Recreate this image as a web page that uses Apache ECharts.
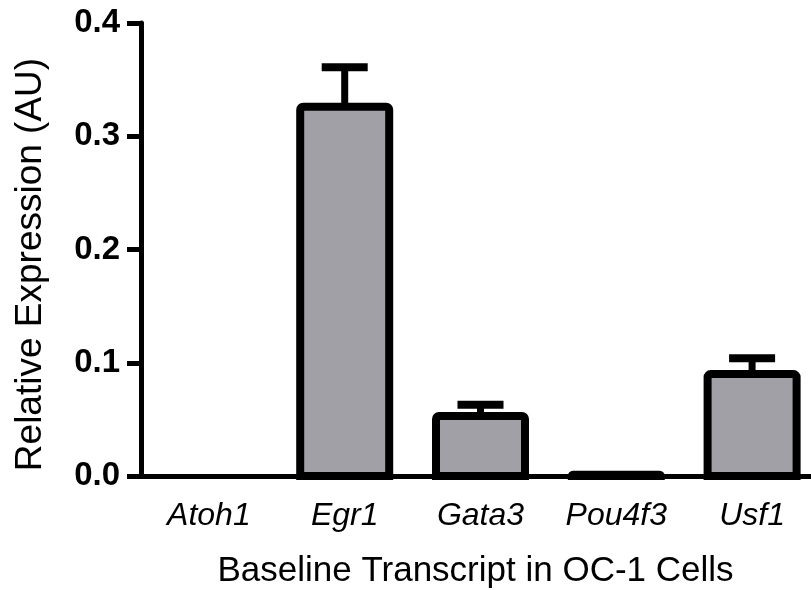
<!DOCTYPE html>
<html>
<head>
<meta charset="utf-8">
<script src="https://cdn.jsdelivr.net/npm/echarts@6/dist/echarts.min.js"></script>
<style>html,body{margin:0;padding:0;background:#fff;}#c{width:811px;height:590px;}</style>
</head>
<body>
<div id="c"></div>
<script>
var categories = ['Atoh1', 'Egr1', 'Gata3', 'Pou4f3', 'Usf1'];
var means = [0, 0.326, 0.053, 0.001, 0.090];
var errors = [0, 0.035, 0.010, 0, 0.014];
var yTicks = [0, 0.1, 0.2, 0.3, 0.4];

var FONT = '"Liberation Sans", Arial, sans-serif';
var chart = echarts.init(document.getElementById('c'));

var barData = means.map(function (v, i) { return [i, v]; });
var errData = means.map(function (v, i) { return [i, v, v + errors[i], errors[i]]; });

chart.setOption({
  animation: false,
  backgroundColor: '#fff',
  grid: { left: 141, width: 679, top: 23, bottom: 114, containLabel: false, outerBoundsMode: 'none' },
  xAxis: {
    type: 'category',
    data: categories,
    name: 'Baseline Transcript in OC-1 Cells',
    nameLocation: 'middle',
    nameGap: 78,
    nameTextStyle: { fontFamily: FONT, fontSize: 35, color: '#000', padding: [0, 10, 0, 0] },
    axisLine: { lineStyle: { color: '#000', width: 5 } },
    axisTick: { alignWithLabel: true, length: 13, lineStyle: { color: '#000', width: 5 } },
    axisLabel: { fontFamily: FONT, fontSize: 32, fontStyle: 'italic', color: '#000', margin: 24 }
  },
  yAxis: {
    type: 'value',
    min: yTicks[0],
    max: yTicks[yTicks.length - 1],
    interval: 0.1,
    name: 'Relative Expression (AU)',
    nameLocation: 'middle',
    nameGap: 92,
    nameTextStyle: { fontFamily: FONT, fontSize: 37, color: '#000', padding: [0, 30, 0, 0] },
    splitLine: { show: false },
    axisLine: { show: true, lineStyle: { color: '#000', width: 5 } },
    axisTick: { show: true, length: 14, lineStyle: { color: '#000', width: 5 } },
    axisLabel: {
      fontFamily: FONT, fontSize: 33, fontWeight: 'bold', color: '#000', margin: 21,
      formatter: function (v) { return v.toFixed(1); }
    }
  },
  series: [
    {
      type: 'custom',
      data: errData,
      z: 1,
      renderItem: function (params, api) {
        var err = api.value(3);
        if (!err) return null;
        var base = api.coord([api.value(0), api.value(1)]);
        var top = api.coord([api.value(0), api.value(2)]);
        var half = 23;
        return {
          type: 'group',
          children: [
            { type: 'line', shape: { x1: base[0], y1: base[1], x2: top[0], y2: top[1] }, style: { stroke: '#000', lineWidth: 7 } },
            { type: 'line', shape: { x1: top[0] - half, y1: top[1], x2: top[0] + half, y2: top[1] }, style: { stroke: '#000', lineWidth: 8 } }
          ]
        };
      }
    },
    {
      type: 'custom',
      data: barData,
      z: 2,
      renderItem: function (params, api) {
        var v = api.value(1);
        if (!v) return null;
        var topPt = api.coord([api.value(0), v]);
        var basePt = api.coord([api.value(0), 0]);
        var w = 89;
        return {
          type: 'rect',
          shape: { x: topPt[0] - w / 2, y: topPt[1], width: w, height: basePt[1] - topPt[1], r: [3, 3, 0, 0] },
          style: { fill: '#a1a0a6', stroke: '#000', lineWidth: 8 }
        };
      }
    }
  ]
});
</script>
</body>
</html>
